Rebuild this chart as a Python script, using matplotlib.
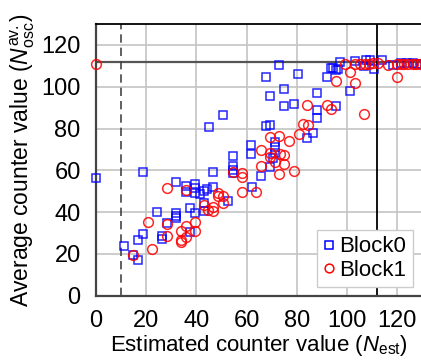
import matplotlib
matplotlib.use("Agg")
import matplotlib.pyplot as plt

plt.rcParams["font.family"] = ["Liberation Sans", "DejaVu Sans"]
plt.rcParams["mathtext.fontset"] = "custom"
plt.rcParams["mathtext.rm"] = "Liberation Sans"
plt.rcParams["mathtext.it"] = "Liberation Sans:italic"

# Block0: estimated vs. averaged oscillator counter values
block0_est = [0, 11.3, 14.9, 16.9, 16.9, 18.8, 18.6, 24.2, 26.2, 26.2, 28.2,
              31.9, 31.9, 31.9, 31.9, 35.7, 35.7, 37.5, 37.5, 39.4, 39.4, 39.4,
              39.4, 41.4, 43.2, 43.0, 43.0, 44.1, 45.2, 46.8, 46.8, 50.6, 52.7,
              54.5, 54.5, 54.5, 54.5, 61.8, 61.8, 62.0, 65.6, 67.6, 67.6, 69.3,
              69.3, 69.3, 70.6, 71.3, 71.3, 71.3, 73.0, 75.0, 75.0, 78.8, 80.6,
              84.2, 86.3, 88.2, 88.2, 88.2, 91.9, 93.5, 94.3, 95.6, 95.6, 96.3,
              97.2, 101.2, 103.2, 106.9, 107.5, 109.2, 110.9, 113.8, 118.5,
              121.5, 123.8, 126.4, 128.0, 129.5]
block0_avg = [56.3, 23.9, 19.3, 17.1, 26.7, 29.4, 59.4, 39.9, 28.7, 27.0, 35.0,
              54.6, 39.4, 38.1, 37.0, 52.5, 49.8, 42.0, 30.6, 53.5, 51.4, 49.3,
              39.4, 48.7, 50.3, 44.5, 40.7, 50.9, 80.5, 59.4, 52.2, 86.5, 45.5,
              66.9, 62.1, 60.2, 58.6, 72.2, 67.7, 52.2, 57.4, 104.8, 81.0, 95.6,
              81.7, 61.6, 65.8, 73.4, 71.0, 68.5, 110.2, 99.1, 90.8, 91.8, 106.0,
              75.5, 77.9, 97.0, 88.7, 84.8, 104.5, 108.8, 108.8, 108.0, 90.9, 108.4,
              111.9, 98.0, 112.2, 110.1, 112.7, 112.7, 108.4, 112.7, 110.3,
              111.5, 111.5, 111.5, 111.0, 111.0]

# Block1
block1_est = [0, 14.9, 20.6, 22.4, 28.2, 28.2, 28.2, 33.7, 33.7, 33.7, 35.7,
              35.7, 35.7, 39.4, 39.4, 43.2, 44.7, 46.8, 46.8, 48.7, 48.7, 50.5,
              50.5, 54.5, 58.0, 58.0, 58.0, 63.7, 65.6, 65.6, 69.3, 69.3, 69.3,
              71.3, 73.0, 73.3, 73.0, 75.0, 75.0, 76.9, 78.9, 80.7, 82.3, 84.3,
              84.2, 91.9, 93.8, 95.6, 99.2, 101.2, 103.2, 103.2, 105.3, 106.8,
              107.2, 108.6, 110.3, 112.2, 116.5, 119.8, 119.8, 121.7, 122.7,
              124.4, 126.4, 127.5, 129.0]
block1_avg = [111.0, 19.5, 35.4, 22.4, 51.4, 34.2, 28.7, 31.1, 26.7, 25.9, 50.5,
              33.4, 28.0, 35.4, 31.1, 43.4, 41.0, 42.6, 40.6, 49.3, 47.7, 47.7,
              44.2, 59.4, 58.9, 57.0, 49.8, 49.6, 69.7, 62.1, 76.1, 68.2, 66.5,
              64.1, 76.3, 67.8, 58.3, 67.4, 63.0, 74.0, 59.7, 77.4, 82.2, 81.7,
              91.3, 91.2, 89.2, 102.9, 110.9, 107.0, 101.6, 111.1, 111.0, 86.7,
              111.0, 111.0, 111.2, 111.2, 110.6, 111.1, 104.5, 110.8, 110.8,
              110.8, 111.1, 111.1, 111.0]

x_ticks = [0, 20, 40, 60, 80, 100, 120]
y_ticks = [0, 20, 40, 60, 80, 100, 120]
counter_max = 112
min_threshold = 10

fig = plt.figure(figsize=(4.21, 3.61), dpi=100)
ax = fig.add_axes([96 / 421, 65.3 / 361, 325 / 421, 271.7 / 361])

ax.set_xlim(0, 129.5)
ax.set_ylim(0, 130)
ax.set_xticks(x_ticks)
ax.set_yticks(y_ticks)
ax.grid(True, color="#c4c4c4", linewidth=1.2, zorder=0)
ax.set_axisbelow(True)
ax.tick_params(length=0, labelsize=17, colors="black")
ax.tick_params(axis="y", pad=11)
ax.tick_params(axis="x", pad=10.5)

for side in ["left", "bottom"]:
    ax.spines[side].set_color("#444444")
    ax.spines[side].set_linewidth(1.6)
ax.spines["top"].set_color("black")
ax.spines["top"].set_linewidth(1.3)
ax.spines["right"].set_visible(False)

ax.axhline(counter_max, color="#555555", linewidth=1.6, zorder=1.5)
ax.axvline(counter_max, color="black", linewidth=1.3, zorder=1.5)
ax.axvline(min_threshold, color="#444444", linewidth=1.2,
           linestyle=(0, (5, 3)), zorder=1.5)

ax.plot(block0_est, block0_avg, linestyle="none", marker="s", markersize=6.2,
        markerfacecolor="none", markeredgecolor="#0000ff", markeredgewidth=1.1,
        alpha=0.85, clip_on=False, zorder=3, label="Block0")
ax.plot(block1_est, block1_avg, linestyle="none", marker="o", markersize=7.0,
        markerfacecolor="none", markeredgecolor="#ff0000", markeredgewidth=1.1,
        alpha=0.85, clip_on=False, zorder=3, label="Block1")

ax.set_xlabel(r"Estimated counter value ($N_{\mathrm{est}}$)", fontsize=16,
              labelpad=0.5)
ax.set_ylabel(r"Average counter value ($N^{\mathrm{av.}}_{\mathrm{osc}}$)",
              fontsize=16.5, labelpad=3)

leg = ax.legend(loc="lower right", fontsize=16, handlelength=0.5,
                handletextpad=0.2, labelspacing=0.1, borderpad=0.3,
                borderaxespad=0.38, fancybox=False, framealpha=1,
                edgecolor="#cccccc", markerscale=0.9)
leg.get_frame().set_linewidth(1.0)
for h in leg.legend_handles:
    h.set_alpha(1)

fig.savefig("out.png", dpi=100)
